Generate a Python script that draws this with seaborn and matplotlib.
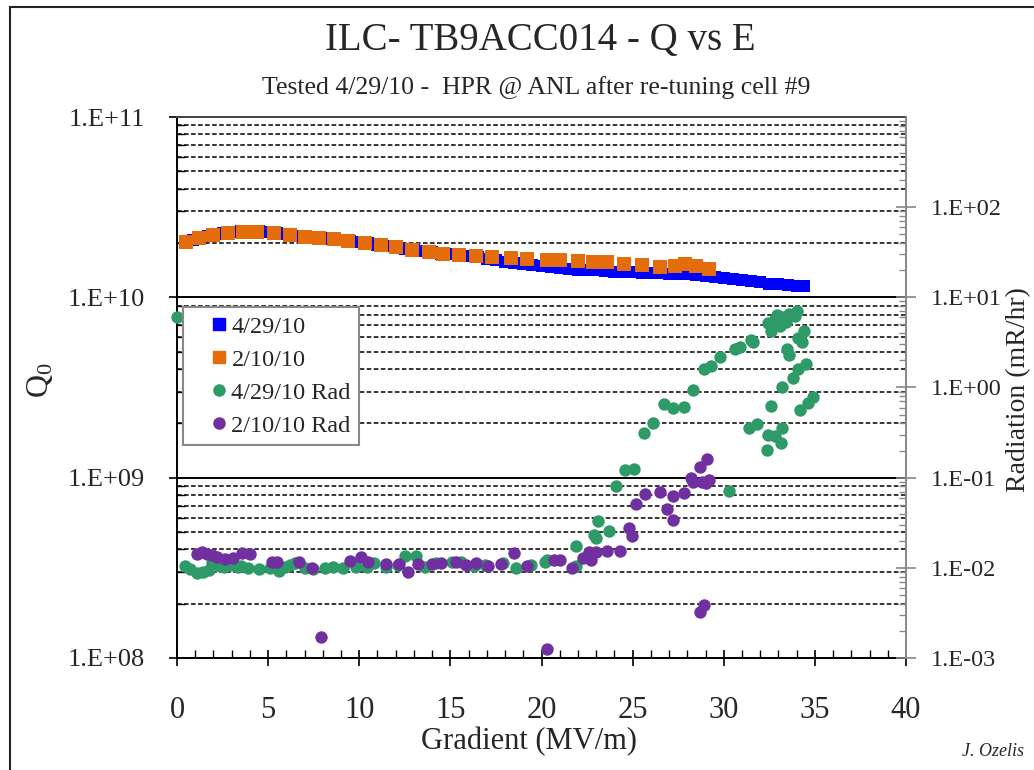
import numpy as np
import pandas as pd
import matplotlib
matplotlib.use("Agg")
import matplotlib.pyplot as plt
import seaborn as sns
from matplotlib.ticker import FixedLocator, LogLocator, FuncFormatter, MultipleLocator, NullFormatter
from matplotlib.lines import Line2D
from matplotlib.patches import Rectangle

# ---------------- data ----------------
q_new_e = [0.5, 0.9, 1.3, 1.7, 2.1, 2.5, 3.0, 3.5, 4.0, 4.5, 5.0, 5.5, 6.0, 6.5, 7.0, 7.5,
           8.0, 8.5, 9.0, 9.5, 10.0, 10.5, 11.0, 11.5, 12.0, 12.5, 13.0, 13.5, 14.0, 14.5,
           15.0, 15.5, 16.0, 16.5, 17.0, 17.5, 18.0, 18.5, 19.0, 19.5, 20.0, 20.5, 21.0,
           21.5, 22.0, 22.5, 23.0, 23.5, 24.0, 24.5, 25.0, 25.5, 26.0, 26.5, 27.0, 27.5,
           28.0, 28.5, 29.0, 29.5, 30.0, 30.5, 31.0, 31.5, 32.0, 32.5, 33.0, 33.5, 34.0, 34.4]
q_new_q = [2.02e10, 2.08e10, 2.14e10, 2.19e10, 2.24e10, 2.28e10, 2.31e10, 2.33e10, 2.33e10,
           2.32e10, 2.30e10, 2.27e10, 2.24e10, 2.20e10, 2.16e10, 2.14e10, 2.13e10, 2.10e10,
           2.07e10, 2.05e10, 2.02e10, 1.99e10, 1.96e10, 1.93e10, 1.90e10, 1.86e10, 1.82e10,
           1.80e10, 1.78e10, 1.75e10, 1.73e10, 1.71e10, 1.69e10, 1.67e10, 1.64e10, 1.61e10,
           1.58e10, 1.56e10, 1.54e10, 1.51e10, 1.49e10, 1.47e10, 1.45e10, 1.43e10, 1.42e10,
           1.41e10, 1.41e10, 1.40e10, 1.39e10, 1.38e10, 1.38e10, 1.37e10, 1.37e10, 1.36e10,
           1.35e10, 1.34e10, 1.34e10, 1.33e10, 1.32e10, 1.30e10, 1.28e10, 1.26e10, 1.24e10,
           1.23e10, 1.21e10, 1.19e10, 1.18e10, 1.17e10, 1.15e10, 1.16e10]

q_old_e = [0.5, 1.2, 2.0, 2.8, 3.6, 4.4, 5.3, 6.2, 7.0, 7.8, 8.6, 9.4, 10.3, 11.2, 12.0,
           12.9, 13.8, 14.6, 15.5, 16.4, 17.3, 18.3, 19.2, 20.3, 21.0, 22.0, 22.8, 23.6,
           24.5, 25.5, 26.5, 27.3, 27.9, 28.5, 29.2]
q_old_q = [2.02e10, 2.12e10, 2.22e10, 2.28e10, 2.31e10, 2.30e10, 2.27e10, 2.21e10, 2.16e10,
           2.13e10, 2.10e10, 2.06e10, 2.00e10, 1.95e10, 1.90e10, 1.84e10, 1.79e10, 1.75e10,
           1.72e10, 1.70e10, 1.68e10, 1.66e10, 1.63e10, 1.61e10, 1.61e10, 1.59e10, 1.58e10,
           1.57e10, 1.53e10, 1.51e10, 1.47e10, 1.50e10, 1.53e10, 1.50e10, 1.44e10]

rad_new_e = [0.0, 0.45, 0.73, 1.09, 1.45, 1.73, 1.9, 2.36, 2.6, 3.0, 3.36, 3.5, 3.9, 4.5,
             5.1, 5.6, 5.9, 6.2, 6.45, 7.0, 7.45, 8.1, 8.55, 9.1, 9.8, 10.4, 10.8, 11.45,
             12.1, 12.5, 13.1, 13.6, 14.2, 15.1, 15.6, 16.3, 16.9, 17.9, 18.6, 19.4, 20.2,
             20.3, 21.9, 21.9, 22.9, 23.0, 23.1, 23.7, 24.1, 24.6, 25.1, 25.6, 26.1, 26.7,
             27.2, 27.8, 28.3, 28.9, 29.3, 29.8, 30.3, 30.6, 30.9, 31.4, 31.5, 31.6, 31.8,
             32.4, 32.45, 32.45, 32.6, 32.6, 32.8, 32.8, 32.9, 33.1, 33.15, 33.2, 33.2, 33.2,
             33.4, 33.45, 33.6, 33.6, 33.8, 33.9, 34.0, 34.1, 34.1, 34.2, 34.3, 34.4, 34.5,
             34.6, 34.9]
rad_new_r = [6.0, 0.0105, 0.0097, 0.0087, 0.0090, 0.0095, 0.0113, 0.0105, 0.0103, 0.0108,
             0.0103, 0.0105, 0.0100, 0.0097, 0.0099, 0.0093, 0.0102, 0.0108, 0.0113, 0.0099,
             0.0097, 0.0099, 0.0102, 0.0099, 0.0103, 0.0103, 0.0113, 0.0103, 0.0108, 0.0136,
             0.0136, 0.0102, 0.0113, 0.0117, 0.0117, 0.0105, 0.0108, 0.0113, 0.0099, 0.0108,
             0.0117, 0.0123, 0.0104, 0.0173, 0.023, 0.0214, 0.0327, 0.0253, 0.081, 0.123,
             0.125, 0.314, 0.40, 0.65, 0.59, 0.61, 0.95, 1.6, 1.75, 2.2, 0.072, 2.7, 2.8,
             0.36, 3.4, 3.2, 0.39, 0.205, 0.30, 5.2, 4.2, 0.63, 0.29, 5.7, 6.3, 4.8, 0.24,
             0.36, 1.0, 6.0, 5.3, 2.7, 2.3, 6.5, 1.28, 6.2, 7.0, 3.5, 1.6, 0.57, 3.2, 4.2,
             1.8, 0.68, 0.79]

rad_old_e = [1.09, 1.36, 1.64, 1.9, 2.18, 2.64, 3.1, 3.55, 4.0, 5.2, 5.5, 6.7, 7.4, 7.9,
             9.5, 10.1, 10.5, 11.45, 12.2, 12.7, 13.2, 14.0, 14.5, 15.3, 15.85, 16.4, 17.05,
             17.8, 18.5, 19.2, 20.3, 20.7, 21.0, 21.7, 22.3, 22.6, 22.7, 23.0, 23.6, 24.3,
             24.8, 24.95, 25.2, 25.7, 26.5, 26.9, 27.2, 27.2, 27.8, 28.2, 28.3, 28.7, 28.7,
             28.9, 28.8, 29.0, 29.1, 29.2]
rad_old_r = [0.0143, 0.0151, 0.0143, 0.0139, 0.0131, 0.0125, 0.0128, 0.0146, 0.0143, 0.0117,
             0.0117, 0.0117, 0.0100, 0.0017, 0.0120, 0.0133, 0.0117, 0.0110, 0.0110, 0.0091,
             0.0110, 0.0110, 0.0112, 0.0117, 0.0107, 0.0113, 0.0104, 0.0110, 0.0146, 0.0105,
             0.00125, 0.0123, 0.0123, 0.0100, 0.0128, 0.0151, 0.0123, 0.0151, 0.0154, 0.0154,
             0.0276, 0.0223, 0.051, 0.066, 0.0687, 0.045, 0.062, 0.034, 0.0674, 0.10, 0.09,
             0.0032, 0.13, 0.0039, 0.09, 0.087, 0.16, 0.095]

series_labels = ["4/29/10", "2/10/10", "4/29/10 Rad", "2/10/10 Rad"]
x_ticks = [0, 5, 10, 15, 20, 25, 30, 35, 40]
q_ticks = [1e8, 1e9, 1e10, 1e11]
r_ticks = [1e-3, 1e-2, 1e-1, 1e0, 1e1, 1e2]

C_BLUE = "#0000FF"
C_ORANGE = "#E46C0A"
C_GREEN = "#2E9A68"
C_PURPLE = "#7030A0"

# ---------------- figure ----------------
sns.set_theme(style="white")
plt.rcParams["font.family"] = ["Liberation Serif", "DejaVu Serif"]
plt.rcParams["mathtext.fontset"] = "custom"
plt.rcParams["mathtext.rm"] = "Liberation Serif"
plt.rcParams["mathtext.it"] = "Liberation Serif:italic"

fig = plt.figure(figsize=(10.34, 7.70), dpi=100)
fig.patch.set_facecolor("white")
W, H = 1034, 770
L, R_, T, B = 177, 906, 117, 658
ax = fig.add_axes([L / W, 1 - B / H, (R_ - L) / W, (B - T) / H])
ax2 = ax.twinx()

df_qn = pd.DataFrame({"E": q_new_e, "Q": q_new_q})
df_qo = pd.DataFrame({"E": q_old_e, "Q": q_old_q})
df_rn = pd.DataFrame({"E": rad_new_e, "R": rad_new_r})
df_ro = pd.DataFrame({"E": rad_old_e, "R": rad_old_r})

sns.scatterplot(data=df_qn, x="E", y="Q", ax=ax, marker="s", color=C_BLUE, s=85,
                linewidth=0, legend=False, zorder=3)
sns.scatterplot(data=df_qo, x="E", y="Q", ax=ax, marker="s", color=C_ORANGE, s=100,
                linewidth=0, legend=False, zorder=4)
sns.scatterplot(data=df_rn, x="E", y="R", ax=ax2, marker="o", color=C_GREEN, s=80,
                linewidth=0, legend=False, zorder=3, clip_on=False)
sns.scatterplot(data=df_ro, x="E", y="R", ax=ax2, marker="o", color=C_PURPLE, s=80,
                linewidth=0, legend=False, zorder=4)

ax.set_yscale("log")
ax2.set_yscale("log")
ax.set_xlim(0, 40)
ax.set_ylim(1e8, 1e11)
ax2.set_ylim(1e-3, 1e3)

fmt = FuncFormatter(lambda v, p: "1.E{:+03d}".format(int(round(np.log10(v)))))

# x axis
ax.xaxis.set_major_locator(FixedLocator(x_ticks))
ax.xaxis.set_minor_locator(MultipleLocator(1))
ax.tick_params(axis="x", which="major", direction="inout", length=12, width=1.2,
               color="black", labelsize=22, pad=21, bottom=True)
ax.tick_params(axis="x", which="minor", direction="in", length=6, width=1.0,
               color="black", bottom=True)
ax.set_xticklabels([str(v) for v in x_ticks])

# left axis
ax.yaxis.set_major_locator(FixedLocator(q_ticks))
ax.yaxis.set_minor_locator(LogLocator(base=10, subs=np.arange(2, 10)))
ax.yaxis.set_major_formatter(fmt)
ax.yaxis.set_minor_formatter(NullFormatter())
ax.tick_params(axis="y", which="major", direction="inout", length=12, width=1.2,
               color="black", labelsize=19, pad=17, left=True)
ax.tick_params(axis="y", which="minor", direction="in", length=6, width=1.0,
               color="black", left=True)

# right axis
ax2.yaxis.set_major_locator(FixedLocator(r_ticks))
ax2.yaxis.set_minor_locator(LogLocator(base=10, subs=np.arange(2, 10)))
ax2.yaxis.set_major_formatter(fmt)
ax2.yaxis.set_minor_formatter(NullFormatter())
ax2.tick_params(axis="y", which="major", direction="inout", length=14, width=1.2,
               color="#888888", labelsize=17.5, pad=11, right=True)
ax2.tick_params(axis="y", which="minor", direction="in", length=5, width=1.0,
               color="#888888", right=True)

# grid
ax.grid(False)
ax2.grid(False)
ax.yaxis.grid(True, which="major", color="black", linewidth=1.4, linestyle="-")
ax.yaxis.grid(True, which="minor", color="black", linewidth=1.1, linestyle=(0, (3, 1.6)))
ax.set_axisbelow(True)

for side, sp in ax.spines.items():
    sp.set_visible(True)
ax.spines["left"].set_color("black")
ax.spines["left"].set_linewidth(1.4)
ax.spines["bottom"].set_color("black")
ax.spines["bottom"].set_linewidth(1.4)
ax.spines["top"].set_color("#444444")
ax.spines["top"].set_linewidth(1.4)
ax.spines["right"].set_visible(False)
for side in ["left", "bottom", "top"]:
    ax2.spines[side].set_visible(False)
ax2.spines["right"].set_visible(True)
ax2.spines["right"].set_color("#888888")
ax2.spines["right"].set_linewidth(1.4)

# labels
ax.set_xlabel("Gradient (MV/m)", fontsize=22)
ax.xaxis.set_label_coords(0.483, -0.128)
ax.set_ylabel("Q$_0$", fontsize=23)
ax.yaxis.set_label_coords(-0.168, 0.514)
ax2.set_ylabel("")
fig.text(1019 / W, 1 - 390 / H, "Radiation (mR/hr)", rotation=90, ha="center",
         va="center", fontsize=20)
fig.text(540 / W, 1 - 40 / H, "ILC- TB9ACC014 - Q vs E", ha="center", va="center",
         fontsize=28)
fig.text(536 / W, 1 - 88 / H, "Tested 4/29/10 -  HPR @ ANL after re-tuning cell #9",
         ha="center", va="center", fontsize=18.5)
fig.text(962 / W, 1 - 752 / H, "J. Ozelis", ha="left", va="center", fontsize=13,
         style="italic")

# figure border
fig.patches.append(Rectangle((10 / W, -0.1), 1.2, 1.1 - 7 / H, transform=fig.transFigure,
                             fill=False, edgecolor="#222222", linewidth=1.5))

# legend
handles = [
    Line2D([], [], linestyle="none", marker="s", color=C_BLUE, markersize=8),
    Line2D([], [], linestyle="none", marker="s", color=C_ORANGE, markersize=8),
    Line2D([], [], linestyle="none", marker="o", color=C_GREEN, markersize=8),
    Line2D([], [], linestyle="none", marker="o", color=C_PURPLE, markersize=8),
]
leg = ax2.legend(handles, series_labels, loc="upper left", bbox_to_anchor=(0.008, 0.648),
                 borderaxespad=0, frameon=True, fancybox=False, fontsize=17.5,
                 handlelength=2.25, handletextpad=-0.6, labelspacing=0.45,
                 borderpad=0.35, framealpha=1)
leg.get_frame().set_edgecolor("#888888")
leg.get_frame().set_linewidth(1.5)
leg.set_zorder(10)

fig.savefig("out.png", dpi=100)
